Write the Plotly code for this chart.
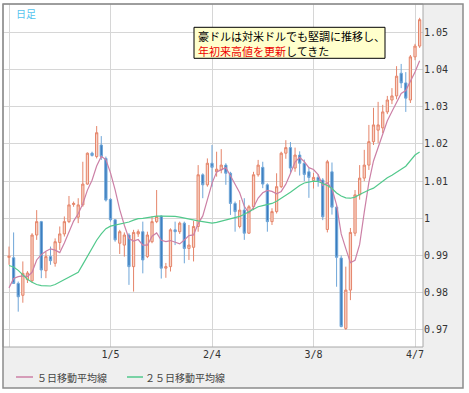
import plotly.graph_objects as go
import pandas as pd

# ---- data (AUD/USD daily) ----
dates = [d.strftime("%-m/%-d") for d in pd.bdate_range("2010-12-06", "2011-04-08")]

open_ = [0.9895, 0.9894, 0.9825, 0.9793, 0.9835, 0.9832, 0.9955, 0.9991, 0.9859, 0.9897,
         0.9879, 0.9935, 0.9958, 0.9991, 1.0037, 1.0003, 1.0036, 1.0092, 1.0175, 1.0166,
         1.0197, 1.0161, 1.0051, 0.9996, 0.9933, 0.9928, 0.9955, 0.9870, 0.9958, 0.9964,
         0.9897, 0.9937, 0.9991, 1.0006, 0.9866, 0.9870, 0.9969, 0.9964, 0.9987, 0.9919,
         0.9922, 0.9978, 1.0117, 1.0090, 1.0148, 1.0125, 1.0130, 1.0143, 1.0121, 1.0040,
         0.9978, 1.0022, 0.9960, 1.0031, 1.0117, 1.0137, 1.0090, 0.9991, 1.0018, 1.0085,
         1.0175, 1.0190, 1.0135, 1.0170, 1.0148, 1.0125, 1.0102, 1.0110, 1.0103, 0.9970,
         1.0125, 1.0030, 0.9893, 0.9704, 0.9807, 0.9960, 1.0063, 1.0108, 1.0143, 1.0206,
         1.0237, 1.0243, 1.0286, 1.0318, 1.0329, 1.0390, 1.0364, 1.0318, 1.0434, 1.0463]
high = [0.9924, 0.9962, 0.9830, 0.9884, 0.9858, 0.9960, 1.0022, 0.9993, 0.9910, 0.9924,
        0.9946, 0.9978, 1.0005, 1.0060, 1.0045, 1.0054, 1.0152, 1.0177, 1.0179, 1.0248,
        1.0221, 1.0166, 1.0054, 0.9997, 0.9969, 0.9962, 0.9960, 0.9969, 0.9970, 0.9991,
        0.9964, 1.0005, 1.0076, 1.0008, 0.9880, 0.9973, 0.9991, 0.9991, 0.9991, 0.9982,
        0.9993, 1.0143, 1.0121, 1.0161, 1.0197, 1.0179, 1.0186, 1.0148, 1.0125, 1.0045,
        1.0049, 1.0054, 1.0036, 1.0125, 1.0157, 1.0152, 1.0094, 1.0027, 1.0121, 1.0179,
        1.0210, 1.0205, 1.0190, 1.0180, 1.0158, 1.0135, 1.0122, 1.0118, 1.0108, 1.0157,
        1.0150, 1.0035, 0.9900, 0.9870, 0.9974, 1.0076, 1.0143, 1.0184, 1.0251, 1.0297,
        1.0313, 1.0305, 1.0329, 1.0350, 1.0409, 1.0415, 1.0393, 1.0439, 1.0469, 1.0539]
low = [0.9875, 0.9824, 0.9749, 0.9773, 0.9826, 0.9827, 0.9942, 0.9839, 0.9839, 0.9875,
       0.9870, 0.9915, 0.9951, 0.9987, 1.0031, 0.9987, 1.0031, 1.0090, 1.0166, 1.0161,
       1.0157, 1.0045, 0.9991, 0.9937, 0.9904, 0.9897, 0.9821, 0.9803, 0.9950, 0.9852,
       0.9893, 0.9933, 0.9987, 0.9838, 0.9840, 0.9857, 0.9928, 0.9958, 0.9879, 0.9888,
       0.9884, 0.9964, 1.0054, 1.0085, 1.0085, 1.0112, 1.0121, 1.0090, 1.0009, 0.9964,
       0.9973, 0.9942, 0.9958, 1.0022, 1.0112, 1.0081, 0.9964, 0.9982, 1.0013, 1.0081,
       1.0160, 1.0122, 1.0125, 1.0115, 1.0100, 1.0055, 1.0080, 1.0085, 0.9995, 0.9962,
       1.0010, 0.9816, 0.9707, 0.9700, 0.9780, 0.9952, 1.0050, 1.0100, 1.0130, 1.0197,
       1.0202, 1.0229, 1.0280, 1.0307, 1.0320, 1.0350, 1.0286, 1.0310, 1.0425, 1.0458]
close = [0.9898, 0.9825, 0.9789, 0.9852, 0.9853, 0.9955, 0.9991, 0.9861, 0.9897, 0.9886,
         0.9937, 0.9958, 0.9991, 1.0036, 1.0040, 1.0036, 1.0092, 1.0175, 1.0169, 1.0230,
         1.0166, 1.0049, 0.9996, 0.9942, 0.9964, 0.9955, 0.9870, 0.9962, 0.9964, 0.9888,
         0.9955, 0.9991, 1.0005, 0.9866, 0.9870, 0.9969, 0.9964, 0.9987, 0.9919, 0.9928,
         0.9978, 1.0117, 1.0090, 1.0148, 1.0137, 1.0132, 1.0143, 1.0121, 1.0040, 1.0018,
         1.0022, 0.9960, 1.0031, 1.0117, 1.0143, 1.0092, 0.9991, 1.0018, 1.0085, 1.0175,
         1.0190, 1.0135, 1.0170, 1.0148, 1.0118, 1.0110, 1.0110, 1.0100, 1.0004, 1.0152,
         1.0030, 0.9895, 0.9709, 0.9807, 0.9962, 1.0063, 1.0108, 1.0143, 1.0206, 1.0251,
         1.0251, 1.0286, 1.0318, 1.0329, 1.0382, 1.0364, 1.0323, 1.0434, 1.0463, 1.0534]

# 5-day MA values for the first four days (earlier closes are off-chart)
ma5_head = [0.9813, 0.9838, 0.9843, 0.9845]

# 25-day moving average
ma25 = [0.9873, 0.9869, 0.9860, 0.9849, 0.9836, 0.9828, 0.9822, 0.9819, 0.9818, 0.9818,
        0.9822, 0.9829, 0.9836, 0.9843, 0.9848, 0.9855, 0.9876, 0.9898, 0.9921, 0.9941,
        0.9958, 0.9972, 0.9979, 0.9982, 0.9984, 0.9986, 0.9990, 0.9995, 0.9999, 1.0000,
        1.0002, 1.0004, 1.0006, 1.0006, 1.0006, 1.0006, 1.0005, 1.0003, 1.0000, 0.9997,
        0.9995, 0.9993, 0.9991, 0.9988, 0.9987, 0.9989, 0.9992, 0.9995, 0.9998, 1.0001,
        1.0005, 1.0011, 1.0018, 1.0024, 1.0031, 1.0034, 1.0036, 1.0040, 1.0046, 1.0055,
        1.0062, 1.0070, 1.0080, 1.0088, 1.0095, 1.0098, 1.0100, 1.0099, 1.0094, 1.0088,
        1.0080, 1.0068, 1.0060, 1.0055, 1.0054, 1.0057, 1.0064, 1.0071, 1.0076, 1.0081,
        1.0090, 1.0101, 1.0109, 1.0116, 1.0123, 1.0132, 1.0140, 1.0155, 1.0170, 1.0178]

x_tick_dates = ["12/6", "1/5", "2/4", "3/8", "4/7"]
x_tick_text = ["", "1/5", "2/4", "3/8", "4/7"]
y_tick_vals = [0.97, 0.98, 0.99, 1.00, 1.01, 1.02, 1.03, 1.04, 1.05]
y_tick_text = ["0.97", "0.98", "0.99", "1", "1.01", "1.02", "1.03", "1.04", "1.05"]

note_line1 = "豪ドルは対米ドルでも堅調に推移し、"
note_red = "年初来高値を更新"
note_rest = "してきた"

ma5 = pd.Series(close).rolling(5).mean()
ma5.iloc[:4] = ma5_head

# ---- figure ----
UP_LINE, UP_FILL = "#e5856a", "#f8d3c6"
DN_LINE, DN_FILL = "#6fa6d8", "#3a7cbe"
MA5_COL, MA25_COL = "#cc80a6", "#52c98c"
FONT_JP = "Noto Sans CJK JP"
FONT_NUM = "DejaVu Sans Mono"

fig = go.Figure()
fig.add_trace(go.Candlestick(
    x=dates, open=open_, high=high, low=low, close=close,
    increasing=dict(line=dict(color=UP_LINE, width=1), fillcolor=UP_FILL),
    decreasing=dict(line=dict(color=DN_LINE, width=1), fillcolor=DN_FILL),
    whiskerwidth=0, name="日足", showlegend=False))
fig.add_trace(go.Scatter(x=dates, y=ma5, mode="lines", name="５日移動平均線",
                         line=dict(color=MA5_COL, width=1.2), showlegend=False))
fig.add_trace(go.Scatter(x=dates, y=ma25, mode="lines", name="２５日移動平均線",
                         line=dict(color=MA25_COL, width=1.2), showlegend=False))

W, H = 469, 393
L, R, T, B = 3, 423, 4, 347
pw, ph = R - L, B - T
def px(x): return (x - L) / pw
def py(y): return (B - y) / ph

fig.update_layout(
    width=W, height=H,
    margin=dict(l=L, r=W - R, t=T, b=H - B),
    paper_bgcolor="white", plot_bgcolor="white",
    showlegend=False, hovermode=False,
    xaxis=dict(type="category", range=[-1.3, 89.73], rangeslider=dict(visible=False),
               tickmode="array", tickvals=x_tick_dates, ticktext=x_tick_text,
               showgrid=True, gridcolor="#d6d6d6", gridwidth=1, ticks="",
               zeroline=False, showline=False,
               tickfont=dict(family=FONT_NUM, size=10, color="#333")),
    yaxis=dict(side="right", range=[0.96540, 1.05761], tickmode="array",
               tickvals=y_tick_vals, ticktext=y_tick_text,
               showgrid=True, gridcolor="#d6d6d6", gridwidth=1, ticks="",
               zeroline=False, showline=False,
               tickfont=dict(family=FONT_NUM, size=10, color="#333")),
)

shapes = []
# gray panels (right & bottom)
shapes.append(dict(type="rect", xref="paper", yref="paper", x0=1, x1=px(463), y0=py(388), y1=1,
                   fillcolor="#efefef", line=dict(width=0), layer="below"))
shapes.append(dict(type="rect", xref="paper", yref="paper", x0=0, x1=1, y0=py(388), y1=0,
                   fillcolor="#efefef", line=dict(width=0), layer="below"))
# plot frame
shapes.append(dict(type="rect", xref="paper", yref="paper", x0=0, x1=1, y0=0, y1=1,
                   line=dict(color="#a8a8a8", width=1), layer="above"))
# outer frame
shapes.append(dict(type="rect", xref="paper", yref="paper", x0=0, x1=px(463), y0=py(388), y1=1,
                   line=dict(color="#8c8c8c", width=1.5), layer="above"))
# note box
shapes.append(dict(type="rect", xref="paper", yref="paper", x0=px(194), x1=px(385), y0=py(58.3), y1=py(27.3),
                   fillcolor="#ffffcc", line=dict(color="#000000", width=1), layer="above"))
# legend samples
shapes.append(dict(type="line", xref="paper", yref="paper", x0=px(16), x1=px(33), y0=py(377), y1=py(377),
                   line=dict(color=MA5_COL, width=1.5)))
shapes.append(dict(type="line", xref="paper", yref="paper", x0=px(127), x1=px(143), y0=py(377), y1=py(377),
                   line=dict(color=MA25_COL, width=1.5)))
fig.update_layout(shapes=shapes)

def txt(x, y, s, size, color, anchor="left"):
    return dict(xref="paper", yref="paper", x=px(x), y=py(y), xanchor=anchor, yanchor="middle",
                text=s, showarrow=False, borderpad=0,
                font=dict(family=FONT_JP, size=size, color=color))

ann = [
    txt(36, 377, "５日移動平均線", 10, "#444"),
    txt(144, 377, "２５日移動平均線", 10, "#444"),
    txt(15, 14, "日足", 10, "#55c3ee"),
    txt(197, 36.5, note_line1, 11, "#000"),
    txt(197, 50.5, note_red, 11, "#ee0000"),
    txt(197 + 11 * len(note_red), 50.5, note_rest, 11, "#000"),
]
fig.update_layout(annotations=ann)

fig.write_html("out.html", config={"displayModeBar": False},
               post_script="document.body.style.margin='0px';document.body.style.padding='0px';")
